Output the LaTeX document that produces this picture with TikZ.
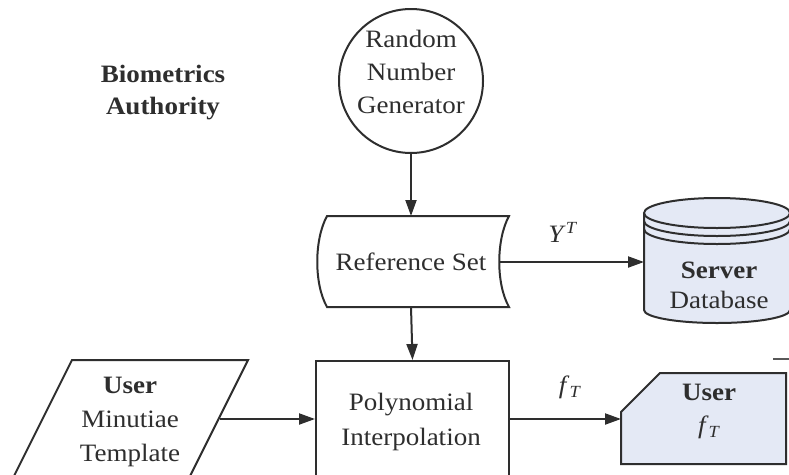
\documentclass[tikz,border=0pt]{standalone}
\usepackage{fontspec}
\setmainfont[FakeStretch=1.08]{Liberation Serif}
\usetikzlibrary{arrows.meta}
\definecolor{boxfill}{HTML}{E4E9F5}
\definecolor{ink}{HTML}{2E2E2E}
\tikzset{
  ln/.style={line width=2pt, draw=ink},
  arr/.style={-{Triangle[length=16pt,width=11pt]}, line width=2pt, draw=ink},
  txt/.style={align=center, inner sep=0pt, text=ink, font=\fontsize{25}{33}\selectfont},
  lbl/.style={inner sep=0pt, text=ink, font=\fontsize{25}{33}\selectfont},
}
\newcommand{\subT}{{\fontsize{17}{17}\selectfont\raisebox{-4pt}{\textit{T}}}}
\newcommand{\supT}{{\fontsize{17}{17}\selectfont\raisebox{9pt}{\textit{T}}}}
\begin{document}
\begin{tikzpicture}[x=1pt,y=-1pt]
\useasboundingbox (0,0) rectangle (789,474);
\clip (0,0) rectangle (789,474);
\fill[white] (0,0) rectangle (789,474);

% Biometrics Authority
\node[txt, font=\fontsize{25}{32}\selectfont\bfseries] (ba) at (163,93) {Biometrics\\Authority};

% Random number generator
\node[circle, ln, minimum size=144pt, inner sep=0pt] (rng) at (411,81) {};
\node[txt] (rngt) at (411,72) {Random\\Number\\Generator};

% Reference set
\coordinate (rsT) at (411,216);
\coordinate (rsB) at (411,307);
\coordinate (rsR) at (499,262);
\draw[ln] (327,216) -- (509,216) .. controls (496,240) and (496,284) .. (509,307)
      -- (327,307) .. controls (314,284) and (314,240) .. (327,216) -- cycle;
\node[lbl] (rs) at (411,262) {Reference Set};

% Database
\coordinate (dbL) at (644,262);
\fill[boxfill] (644,213) -- (644,310) arc[start angle=180,end angle=0,x radius=73,y radius=13] -- (790,213) arc[start angle=0,end angle=-180,x radius=73,y radius=15] -- cycle;
\draw[ln] (644,213) -- (644,310) arc[start angle=180,end angle=0,x radius=73,y radius=13] -- (790,213);
\draw[ln] (717,213) ellipse[x radius=73,y radius=15];
\draw[ln] (644,221) arc[start angle=180,end angle=0,x radius=73,y radius=15];
\draw[ln] (644,229) arc[start angle=180,end angle=0,x radius=73,y radius=15];
\node[txt, font=\fontsize{25}{30}\selectfont] (db) at (719,285) {\textbf{Server}\\Database};

% Polynomial interpolation
\node[ln, minimum width=193pt, minimum height=140pt, inner sep=0pt] (poly) at (412.5,431) {};
\node[txt, font=\fontsize{25}{35}\selectfont] (polyt) at (411,422) {Polynomial\\Interpolation};

% User minutiae template (parallelogram)
\coordinate (pR) at (220,419);
\draw[ln, fill=white] (72,360) -- (248,360) -- (182,492) -- (6,492) -- cycle;
\node[txt, font=\fontsize{25}{34}\selectfont] (umt) at (130,422) {\textbf{User}\\Minutiae\\Template};

% User f_T box
\coordinate (ufL) at (621,419);
\draw[ln, fill=boxfill] (660,373) -- (786,373) -- (786,464) -- (621,464) -- (621,412) -- cycle;
\node[txt] (uf) at (709,411) {\textbf{User}\\\textit{f}\subT};

% short mark at right
\coordinate (m1) at (773,359);
\coordinate (m2) at (790,359);
\draw[line width=2.5pt, draw=ink!80] (m1) -- (m2);

% connectors
\draw[arr] (rng.south) -- (rsT);
\draw[arr] (rsB) -- (poly.north);
\draw[arr] (rsR) -- (dbL) node[lbl, pos=0.44, above=19pt] (yt) {\textit{Y}\supT};
\draw[arr] (pR) -- (pR -| poly.west);
\draw[arr] (pR -| poly.east) -- (ufL) node[lbl, pos=0.54, above=19pt] (ft) {\textit{f}\subT};
\end{tikzpicture}
\end{document}
